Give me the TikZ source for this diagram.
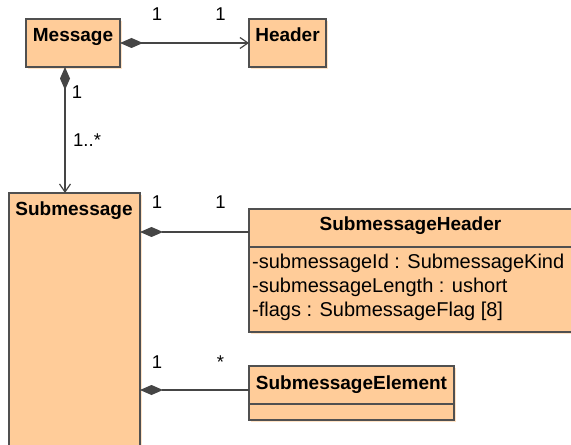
\documentclass[tikz,border=0pt]{standalone}
\usepackage{fontspec}
\setmainfont{Liberation Sans}
\usetikzlibrary{arrows.meta,calc}
\definecolor{boxfill}{HTML}{FFCC99}
\definecolor{boxshadow}{HTML}{FFE3C6}
\definecolor{edge}{HTML}{505050}
\definecolor{conn}{HTML}{454545}
\tikzset{
  umlbox/.style={draw=edge, line width=1.2bp, fill=boxfill, anchor=north west, inner sep=0pt, outer sep=0pt},
  shadowbox/.style={fill=boxshadow, draw=none, anchor=north west, inner sep=0pt, outer sep=0pt},
  title/.style={font=\fontsize{19bp}{21bp}\selectfont\bfseries, anchor=base, inner sep=0pt},
  attr/.style={font=\fontsize{20bp}{22bp}\selectfont, anchor=base west, inner sep=0pt},
  mult/.style={font=\fontsize{18.5bp}{20bp}\selectfont, anchor=base, inner sep=0pt},
  divider/.style={draw=edge, line width=1.2bp},
  compo/.style={draw=conn, line width=1.2bp, {Diamond[length=23bp,width=10bp,fill=conn]}-},
  compoarrow/.style={draw=conn, line width=1.2bp, {Diamond[length=23bp,width=10bp,fill=conn]}-{Straight Barb[length=8bp,width=11bp]}}
}
\begin{document}
\begin{tikzpicture}[x=1bp,y=-1bp]
\useasboundingbox (0,0) rectangle (571,445);
% shadows
\node[shadowbox, minimum width=94bp, minimum height=48bp] (msgs) at (28,21) {};
\node[shadowbox, minimum width=77bp, minimum height=48bp] (hdrs) at (251,21) {};
\node[shadowbox, minimum width=131bp, minimum height=256bp] (subs) at (11,195) {};
\node[shadowbox, minimum width=324bp, minimum height=123bp] (shs) at (251,211) {};
\node[shadowbox, minimum width=205bp, minimum height=54bp] (ses) at (251,368) {};
% boxes
\node[umlbox, minimum width=94bp, minimum height=48bp] (msg) at (26,19) {};
\node[umlbox, minimum width=77bp, minimum height=48bp] (hdr) at (249,19) {};
\node[umlbox, minimum width=131bp, minimum height=256bp] (sub) at (9,193) {};
\node[umlbox, minimum width=324bp, minimum height=123bp] (sh) at (249,209) {};
\node[umlbox, minimum width=205bp, minimum height=54bp] (se) at (249,366) {};
% dividers
\draw[divider] (sh.west |- 0,247) -- (sh.east |- 0,247);
\draw[divider] (se.west |- 0,404) -- (se.east |- 0,404);
% titles
\node[title] (tmsg) at (73,42) {Message};
\node[title] (thdr) at (287.5,42) {Header};
\node[title] (tsub) at (74,215.5) {Submessage};
\node[title] (tsh) at (410.5,231) {SubmessageHeader};
\node[title] (tse) at (351.5,389) {SubmessageElement};
% attributes
\node[attr] (a1) at (252,269) {-submessageId : SubmessageKind};
\node[attr] (a2) at (252,292.5) {-submessageLength : ushort};
\node[attr] (a3) at (252,316) {-flags : SubmessageFlag [8]};
% connectors
\coordinate (shl) at ($(sh.north west)+(0,23)$);
\coordinate (sel) at ($(se.north west)+(0,24)$);
\draw[compoarrow] (msg.east) -- (hdr.west);
\draw[compoarrow] ([xshift=-8bp]msg.south) -- ([xshift=-8bp]msg.south |- sub.north);
\draw[compo] (sub.east |- shl) -- (shl);
\draw[compo] (sub.east |- sel) -- (sel);
% multiplicities
\node[mult] (m1) at (157,21) {1};
\node[mult] (m2) at (220.5,21) {1};
\node[mult] (m3) at (77,99) {1};
\node[mult, anchor=base west] (m4) at (73,146.5) {1..*};
\node[mult] (m5) at (157,209) {1};
\node[mult] (m6) at (220.5,209) {1};
\node[mult] (m7) at (157,368) {1};
\node[mult] (m8) at (220.5,368) {*};
\end{tikzpicture}
\end{document}
